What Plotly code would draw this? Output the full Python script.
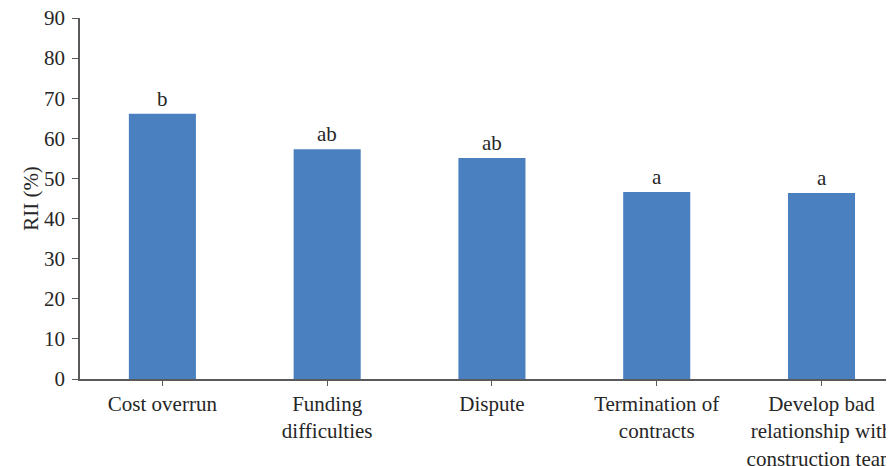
import plotly.graph_objects as go

categories = ["Cost overrun", "Funding<br>difficulties", "Dispute",
              "Termination of<br>contracts", "Develop bad<br>relationship with<br>construction team"]
rii_values = [66.1, 57.3, 55.1, 46.6, 46.4]
group_letters = ["b", "ab", "ab", "a", "a"]
y_ticks = [0, 10, 20, 30, 40, 50, 60, 70, 80, 90]

FONT = "Liberation Serif"
TXT = "#262626"
AX = "#595959"
FS = 21

fig = go.Figure()
fig.add_trace(go.Bar(
    x=list(range(len(categories))), y=rii_values,
    marker=dict(color="#4a80bf", line=dict(width=0)),
    hoverinfo="skip",
))

for i, (v, t) in enumerate(zip(rii_values, group_letters)):
    fig.add_annotation(x=i, y=v, text=t, showarrow=False, yanchor="bottom",
                       yshift=1, font=dict(family=FONT, size=FS, color=TXT))

fig.update_layout(
    width=886, height=458,
    margin=dict(l=72, r=0, t=10, b=87, autoexpand=False),
    paper_bgcolor="white", plot_bgcolor="white",
    bargap=0.593,
    showlegend=False,
    font=dict(family=FONT, size=FS, color=TXT),
    xaxis=dict(
        automargin=False,
        range=[-0.5, 4.44],
        tickmode="array", tickvals=list(range(len(categories))), ticktext=categories,
        showgrid=False, zeroline=False,
        showline=True, linecolor=AX, linewidth=1.5,
        ticks="outside", ticklen=5, tickcolor=AX, tickwidth=1,
        tickson="boundaries",
        ticklabeloverflow="allow",
        tickfont=dict(family=FONT, size=FS, color=TXT),
    ),
    yaxis=dict(
        automargin=False,
        range=[0, 90],
        tickmode="array", tickvals=y_ticks,
        showgrid=False, zeroline=False,
        showline=True, linecolor=AX, linewidth=1.5,
        ticks="outside", ticklen=6, tickcolor=AX, tickwidth=1,
        ticklabelstandoff=3,
        ticklabeloverflow="allow",
        tickfont=dict(family=FONT, size=FS, color=TXT),
        title=dict(text="RII (%)", font=dict(family=FONT, size=FS, color=TXT), standoff=0),
    ),
)

fig.write_html("out.html")
